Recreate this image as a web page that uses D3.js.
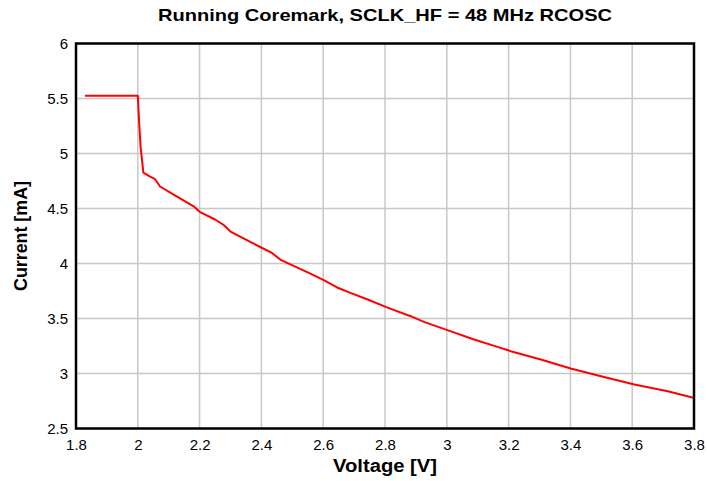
<!DOCTYPE html>
<html>
<head>
<meta charset="utf-8" />
<title>Running Coremark</title>
<script src="https://cdn.jsdelivr.net/npm/d3@7"></script>
<style>
  body { margin: 0; background: #fff; }
  text { font-family: "Liberation Sans", Arial, sans-serif; }
</style>
</head>
<body>
<div id="chart"></div>
<script>
// values
var voltage = [1.829, 1.9, 2.0, 2.004, 2.009, 2.018, 2.04, 2.056, 2.072, 2.12, 2.181, 2.2,
  2.25, 2.278, 2.3, 2.364, 2.396, 2.434, 2.461, 2.504, 2.55, 2.602, 2.645, 2.688, 2.742,
  2.802, 2.883, 2.926, 3.002, 3.088, 3.164, 3.207, 3.304, 3.401, 3.499, 3.607, 3.715, 3.801];
var current = [5.524, 5.525, 5.524, 5.3, 5.06, 4.827, 4.79, 4.766, 4.70, 4.62, 4.52, 4.47,
  4.40, 4.35, 4.29, 4.196, 4.15, 4.096, 4.036, 3.978, 3.92, 3.848, 3.782, 3.733, 3.675,
  3.606, 3.521, 3.469, 3.394, 3.309, 3.242, 3.203, 3.127, 3.045, 2.975, 2.900, 2.839, 2.778];
var xTicks = [1.8, 2, 2.2, 2.4, 2.6, 2.8, 3, 3.2, 3.4, 3.6, 3.8];
var yTicks = [2.5, 3, 3.5, 4, 4.5, 5, 5.5, 6];

var W = 707, H = 481;
var pLeft = 76, pRight = 694, pTop = 43.5, pBottom = 428.5;

var svg = d3.select("#chart").append("svg")
    .attr("width", W).attr("height", H);

var x = d3.scaleLinear().domain([1.8, 3.8]).range([pLeft, pRight]);
var y = d3.scaleLinear().domain([2.5, 6]).range([pBottom, pTop]);

// grid
svg.append("g").selectAll("line").data(xTicks).enter().append("line")
    .attr("x1", d => x(d)).attr("x2", d => x(d))
    .attr("y1", pTop).attr("y2", pBottom)
    .attr("stroke", "#c8c8c8").attr("stroke-width", 1.5);
svg.append("g").selectAll("line").data(yTicks).enter().append("line")
    .attr("x1", pLeft).attr("x2", pRight)
    .attr("y1", d => y(d)).attr("y2", d => y(d))
    .attr("stroke", "#c8c8c8").attr("stroke-width", 1.5);

// axes (labels only)
var xAxis = svg.append("g").attr("transform", "translate(0," + pBottom + ")")
    .call(d3.axisBottom(x).tickValues(xTicks).tickSize(0).tickPadding(11).tickFormat(d3.format("")));
var yAxis = svg.append("g").attr("transform", "translate(" + pLeft + ",0)")
    .call(d3.axisLeft(y).tickValues(yTicks).tickSize(0).tickPadding(8).tickFormat(d3.format("")));
[xAxis, yAxis].forEach(function(a) {
  a.select(".domain").remove();
  a.selectAll("text").attr("font-size", "15px").attr("fill", "#000")
    .style("font-family", "'Liberation Sans', Arial, sans-serif");
});

// data line
var pts = voltage.map(function(v, i) { return [v, current[i]]; });
svg.append("path").datum(pts)
    .attr("fill", "none").attr("stroke", "#ff0000").attr("stroke-width", 2)
    .attr("stroke-linejoin", "round")
    .attr("d", d3.line().x(d => x(d[0])).y(d => y(d[1])));

// frame
svg.append("rect").attr("x", pLeft).attr("y", pTop)
    .attr("width", pRight - pLeft).attr("height", pBottom - pTop)
    .attr("fill", "none").attr("stroke", "#000").attr("stroke-width", 2.5);

// titles
svg.append("text").attr("x", (pLeft + pRight) / 2).attr("y", 21)
    .attr("text-anchor", "middle").attr("font-size", "17px").attr("font-weight", "bold")
    .attr("textLength", 454).attr("lengthAdjust", "spacingAndGlyphs")
    .text("Running Coremark, SCLK_HF = 48 MHz RCOSC");
svg.append("text").attr("x", (pLeft + pRight) / 2).attr("y", 472)
    .attr("text-anchor", "middle").attr("font-size", "18px").attr("font-weight", "bold")
    .attr("textLength", 104).attr("lengthAdjust", "spacingAndGlyphs")
    .text("Voltage [V]");
svg.append("text").attr("transform", "translate(27," + (pTop + pBottom) / 2 + ") rotate(-90)")
    .attr("text-anchor", "middle").attr("font-size", "18px").attr("font-weight", "bold")
    .attr("textLength", 110).attr("lengthAdjust", "spacingAndGlyphs")
    .text("Current [mA]");
</script>
</body>
</html>
